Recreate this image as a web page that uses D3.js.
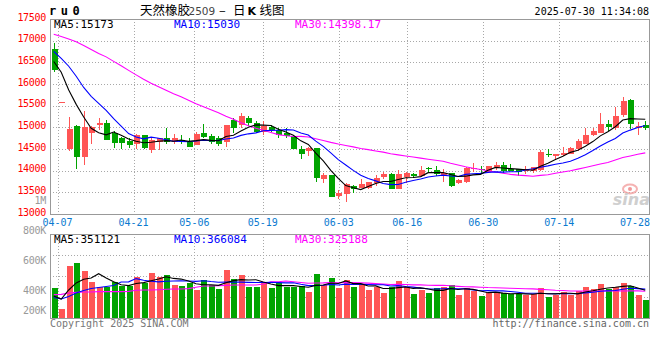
<!DOCTYPE html>
<html><head><meta charset="utf-8">
<script src="https://cdn.jsdelivr.net/npm/d3@7/dist/d3.min.js"></script>
<style>
body{margin:0;background:#fff;}
svg{display:block;}
text{font-family:"DejaVu Sans Mono",monospace;}
</style></head><body>
<svg id="c" width="660" height="360"></svg>
<script>
// ---------------- data ----------------
const dates = ["04-03","04-07","04-08","04-09","04-10","04-11","04-14","04-15","04-16","04-17","04-18","04-21","04-22","04-23","04-24","04-25","04-28","04-29","04-30",
"05-06","05-07","05-08","05-09","05-12","05-13","05-14","05-15","05-16","05-19","05-20","05-21","05-22","05-23","05-26","05-27","05-28","05-29","05-30",
"06-03","06-04","06-05","06-06","06-09","06-10","06-11","06-12","06-13","06-16","06-17","06-18","06-19","06-20","06-23","06-24","06-25","06-26","06-27","06-30",
"07-01","07-02","07-03","07-04","07-07","07-08","07-09","07-10","07-11","07-14","07-15","07-16","07-17","07-18","07-21","07-22","07-23","07-24","07-25","07-28","07-29","07-30"];
const open = [16815,15590,14510,15025,14320,14870,15050,15100,14860,14755,14690,14625,14820,14475,14665,14765,14665,14705,14665,
14590,14860,14795,14745,14665,15180,15050,15205,15100,14895,15010,14935,14870,14795,14510,14455,14525,13805,13900,
13420,13460,13645,13590,13605,13720,13845,13915,13575,13860,13915,13880,14065,14015,13875,13935,13705,13745,14030,14050,
13975,14075,14130,14035,14030,13995,13995,14015,14395,14335,14360,14395,14490,14625,14820,14870,15070,14985,15280,15640,14995,15050];
const high = [16950,15590,15240,15050,15380,15020,15205,15165,14910,14780,14765,14835,14830,14745,14765,14995,14840,14820,14765,
14895,15070,14840,14795,15065,15205,15330,15255,15150,15150,15050,14975,14975,14820,14565,14550,14525,13935,13900,
13550,13720,13670,13800,13750,13900,13975,13935,14015,13975,13950,14105,14090,14105,14050,13950,13800,14090,14180,14110,
14110,14205,14190,14145,14030,14105,14090,14475,14490,14395,14550,14550,14720,14995,14995,15320,15165,15470,15700,15665,15125,15150];
const low = [16275,15590,14455,14035,14130,14605,14935,14705,14525,14510,14525,14490,14495,14410,14475,14610,14610,14610,14550,
14590,14765,14610,14565,14535,14870,14995,15025,14870,14820,14895,14765,14765,14510,14265,14335,13745,13720,13400,
13340,13285,13475,13590,13570,13645,13800,13575,13570,13705,13820,13860,13935,13875,13745,13630,13685,13705,13975,13920,
13935,14015,13935,13995,13875,13920,13935,14000,14320,14245,14335,14380,14455,14605,14795,14865,14910,14935,15240,14955,14820,14935];
const close = [16315,15590,14955,14320,15010,15010,15090,14705,14640,14640,14590,14820,14525,14705,14755,14665,14745,14665,14550,
14840,14780,14665,14610,15050,14985,15255,15100,14895,15025,14935,14820,14795,14510,14380,14525,13820,13900,13400,
13475,13690,13570,13685,13745,13835,13915,13575,13915,13935,13875,14015,14030,13920,13950,13645,13785,14065,14065,14015,
14105,14130,13990,13995,13960,14035,14075,14435,14360,14380,14410,14525,14690,14820,14910,15070,15010,15255,15600,15070,15025,14975];
// volume in thousands of lots
const volumeK = [415,273,560,582,529,455,418,418,455,427, 427,489,449,515,489,500,433,427,449,400,
467,433,407,533,473,500,418,418,455,411, 444,418,418,427,384,507,433,480,415,467,
418,433,400,418,382,418,462,418,373,400, 382,415,418,433,367,411,393,362,378,384,
378,371,371,367,371,411,356,367,389,367, 393,418,407,440,407,418,449,427,367,333];
// moving-average values at the start of the window (history not shown)
const ma5Head  = [16520,16270,15860,15530];
const ma10Head = [16750,16590,16410,16180,15920,15716,15555,15394,15200];
const ma30Head = [17148,17098,17040,16976,16890,16798,16706,16626,16522,16423,16315,16211,16108,16016,15935,15855,15776,15705,15624,15544,15475,15406,15337,15256,15187,15106,15037,14980,14934];
const volMa5Head  = [360,340,400,447];
const volMa10Head = [350,340,357,380,397,410,417,423,430];
const volMa30Head = [369,371,380,384,387,387,389,389,389,389,391,398,400,400,402,405,407,407,409,418,427,427,429,431,433,433,433,433,440];

const priceTicks = [13000,13500,14000,14500,15000,15500,16000,16500,17000,17500];
const volTicks = [200,400,600,800,1000];
const volTickLabels = ["200K","400K","600K","800K","1M"];
const dateTicks = ["04-07","04-21","05-06","05-19","06-03","06-16","06-30","07-14","07-28"];
const priceMaLabels = ["MA5:15173","MA10:15030","MA30:14398.17"];
const volMaLabels = ["MA5:351121","MA10:366084","MA30:325188"];
const maColors = ["#000000","#0000ff","#ff00ff"];

// ---------------- layout ----------------
const L = 50, R = 649;
const mTop = 19, mBot = 214;
const vTop = 234, vBot = 318;
const UP = "#ff5555", DOWN = "#00a400";
const GRID = "#a8a8a8", BORDER = "#999";

const svg = d3.select("#c");
const x = d3.scaleBand().domain(dates).range([L, R]);
const xt = d3.scaleBand().domain(dates).range([L, L + dates.length * 7.6]);
const bw = x.bandwidth();
const cx = i => x(dates[i]) + bw / 2;
const y = d3.scaleLinear().domain([13000, 17500]).range([mBot, mTop]);
const yv = d3.scaleLinear().domain([400, 800]).range([290, 230]);

function ma(arr, n, head) {
  return arr.map((_, i) => i < n - 1 ? head[i] : d3.mean(arr.slice(i - n + 1, i + 1)));
}

const defs = svg.append("defs");
defs.append("clipPath").attr("id","cm").append("rect").attr("x",L).attr("y",mTop).attr("width",R-L).attr("height",mBot-mTop);
defs.append("clipPath").attr("id","cv").append("rect").attr("x",L).attr("y",vTop).attr("width",R-L).attr("height",vBot-vTop);

// ---------------- grid ----------------
const grid = svg.append("g").attr("stroke", GRID).attr("stroke-dasharray","1,2").attr("shape-rendering","crispEdges");
priceTicks.filter(v => v > 13000 && v < 17500).forEach(v => {
  grid.append("line").attr("x1",L).attr("x2",R).attr("y1",Math.round(y(v))+0.5).attr("y2",Math.round(y(v))+0.5);
});
d3.range(1,4).forEach(k => {
  const yy = Math.round(vTop + k*(vBot-vTop)/4) + 0.5;
  grid.append("line").attr("x1",L).attr("x2",R).attr("y1",yy).attr("y2",yy);
});
dateTicks.slice(0,-1).forEach(d => {
  const xx = Math.round(xt(d)) + 0.5;
  grid.append("line").attr("x1",xx).attr("x2",xx).attr("y1",mTop).attr("y2",mBot);
  grid.append("line").attr("x1",xx).attr("x2",xx).attr("y1",vTop).attr("y2",vBot);
});

// borders
const bord = svg.append("g").attr("stroke", BORDER).attr("fill","none").attr("shape-rendering","crispEdges");
[[mTop,mBot],[vTop,vBot]].forEach(([t,b]) => {
  bord.append("rect").attr("x",L+0.5).attr("y",t+0.5).attr("width",R-L).attr("height",b-t);
});

// ---------------- watermark ----------------
const wm = svg.append("g").attr("opacity",0.8);
wm.append("ellipse").attr("cx",630).attr("cy",189).attr("rx",7).attr("ry",4.5).attr("fill","none").attr("stroke","#f3a0a0").attr("stroke-width",2);
wm.append("circle").attr("cx",630).attr("cy",189).attr("r",2).attr("fill","#f08080");
wm.append("text").attr("x",650).attr("y",205).attr("text-anchor","end")
  .style("font-family","'DejaVu Sans',sans-serif").style("font-size","16px").style("font-weight","bold").style("font-style","italic")
  .attr("fill","#c4c4c4").text("sina");

// ---------------- candles ----------------
const cw = 6;
const cg = svg.append("g").attr("clip-path","url(#cm)").attr("shape-rendering","crispEdges");
dates.forEach((d, i) => {
  const up = close[i] >= open[i];
  const col = up ? UP : DOWN;
  const xc = Math.round(cx(i));
  cg.append("line").attr("x1",xc+0.5).attr("x2",xc+0.5).attr("y1",y(high[i])).attr("y2",y(low[i])).attr("stroke",col);
  const top = y(Math.max(open[i],close[i])), bot = y(Math.min(open[i],close[i]));
  if (bot - top < 1) {
    cg.append("line").attr("x1",xc-cw/2+0.5).attr("x2",xc+cw/2+0.5).attr("y1",Math.round(top)+0.5).attr("y2",Math.round(top)+0.5).attr("stroke",col);
  } else {
    cg.append("rect").attr("x",xc-cw/2+0.5).attr("y",top).attr("width",cw).attr("height",bot-top).attr("fill",col);
  }
});

// volume bars
const vg = svg.append("g").attr("clip-path","url(#cv)").attr("shape-rendering","crispEdges");
dates.forEach((d, i) => {
  const col = close[i] >= open[i] ? UP : DOWN;
  const xc = Math.round(cx(i));
  vg.append("rect").attr("x",xc-cw/2+0.5).attr("y",yv(volumeK[i])).attr("width",cw).attr("height",vBot-yv(volumeK[i])).attr("fill",col);
});

// ---------------- MA lines ----------------
const pMA = [ma(close,5,ma5Head), ma(close,10,ma10Head), ma(close,30,ma30Head)];
const vMA = [ma(volumeK,5,volMa5Head), ma(volumeK,10,volMa10Head), ma(volumeK,30,volMa30Head)];
const lineP = d3.line().x((d,i) => cx(i)).y(d => y(d));
const lineV = d3.line().x((d,i) => cx(i)).y(d => yv(d));
const mlg = svg.append("g").attr("clip-path","url(#cm)").attr("fill","none").attr("stroke-width",1.1);
[2,1,0].forEach(k => mlg.append("path").attr("d", lineP(pMA[k])).attr("stroke", maColors[k]));
const vlg = svg.append("g").attr("clip-path","url(#cv)").attr("fill","none").attr("stroke-width",1.1);
[2,1,0].forEach(k => vlg.append("path").attr("d", lineV(vMA[k])).attr("stroke", maColors[k]));

// ---------------- text ----------------
const hx = [54, 174, 295];
priceMaLabels.forEach((t,k) => svg.append("text").attr("x",hx[k]).attr("y",28).attr("fill",maColors[k]).style("font-size","11px").text(t));
volMaLabels.forEach((t,k) => svg.append("text").attr("x",hx[k]).attr("y",242.5).attr("fill",maColors[k]).style("font-size","11px").text(t));

// price axis labels
priceTicks.forEach(v => svg.append("text").attr("x",46).attr("y",y(v)-2).attr("dy","0.35em").attr("text-anchor","end")
  .attr("fill","#ff0000").style("font-size","10px").style("letter-spacing","-0.3px").text(d3.format("d")(v)));
// volume axis labels
volTicks.forEach((v,k) => svg.append("text").attr("x",46).attr("y",Math.min(yv(v),310)).attr("dy","0.35em").attr("text-anchor","end")
  .attr("fill","#999").style("font-size","10px").style("letter-spacing","-0.3px").text(volTickLabels[k]));
// date labels
dateTicks.forEach(d => svg.append("text").attr("x",Math.min(xt(d), R-14)).attr("y",226).attr("text-anchor","middle")
  .attr("fill","#0a7ad0").style("font-size","10px").text(d));

// header
svg.append("text").attr("x",49).attr("y",15).attr("fill","#000").style("font-size","12px").style("font-weight","bold")
  .style("letter-spacing","4.5px").text("ru0");
const title = svg.append("text").attr("y",14.5).attr("fill","#000").style("font-family","'Noto Sans CJK SC',sans-serif").style("font-size","12.5px");
title.append("tspan").attr("x",140).text("天然橡胶");
title.append("tspan").attr("x",188.5).attr("fill","#444").style("font-family","'DejaVu Sans',sans-serif").style("font-size","10.5px").text("2509");
title.append("tspan").attr("x",219).text("–");
title.append("tspan").attr("x",233).text("日");
title.append("tspan").attr("x",247.5).style("font-weight","bold").style("font-family","'DejaVu Sans',sans-serif").style("font-size","11px").text("K");
title.append("tspan").attr("x",259.5).text("线图");
svg.append("text").attr("x",649).attr("y",15).attr("text-anchor","end").attr("fill","#000").style("font-size","10px").text("2025-07-30 11:34:08");

// footer
svg.append("text").attr("x",50).attr("y",327).attr("fill","#777").style("font-size","10px").text("Copyright 2025 SINA.COM");
svg.append("text").attr("x",649).attr("y",327).attr("text-anchor","end").attr("fill","#666").style("font-size","10px").text("http://finance.sina.com.cn");
</script>
</body></html>
